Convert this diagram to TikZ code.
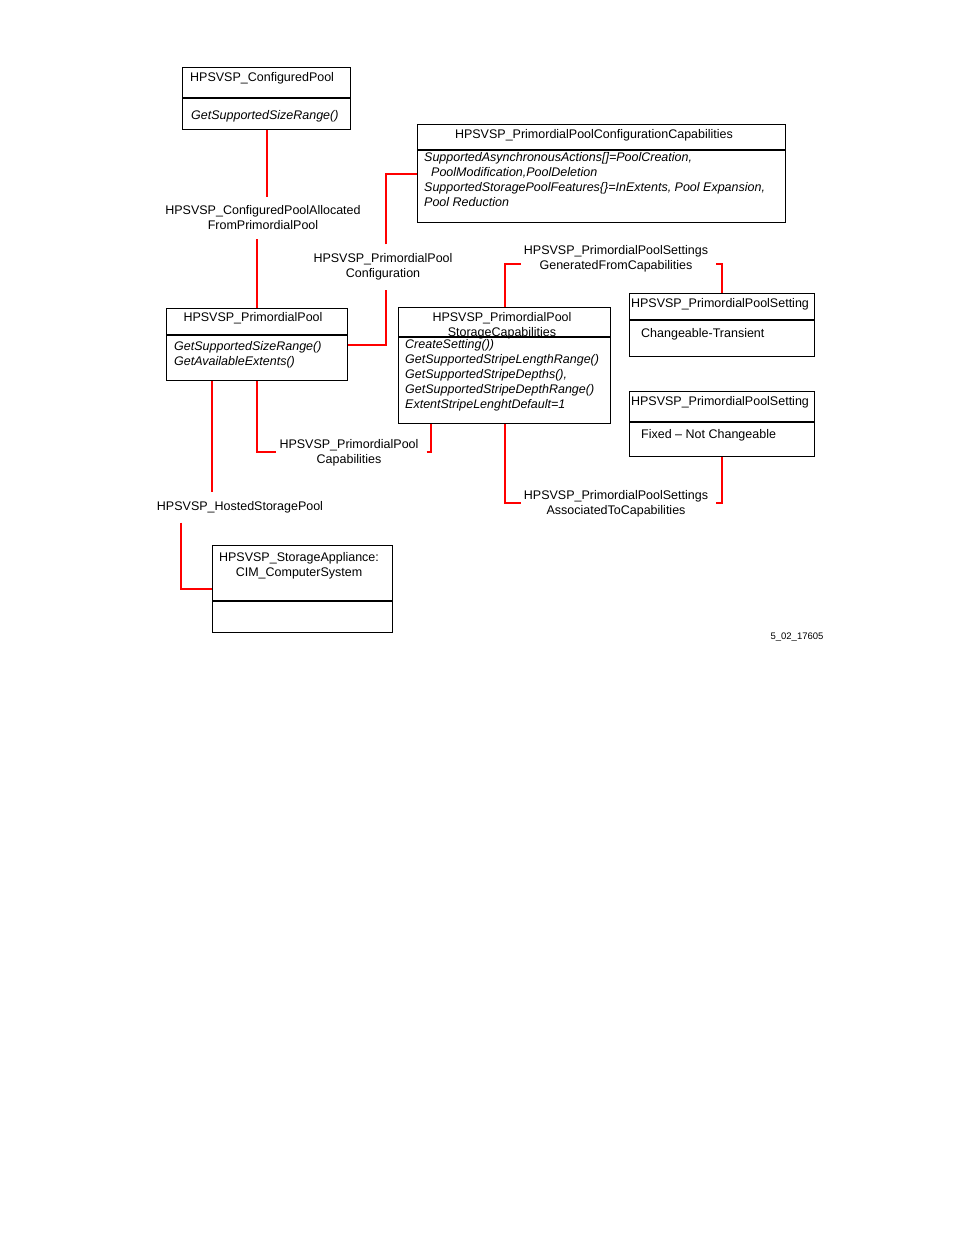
\documentclass[tikz,border=0pt]{standalone}
\usepackage{fontspec}
\setmainfont{Liberation Sans}
\usetikzlibrary{calc,positioning}

\begin{document}
\begin{tikzpicture}[x=1pt,y=-1pt,
  font=\fontsize{12.5}{15}\selectfont,
  classbox/.style={draw,line width=1.4pt,inner sep=0pt,anchor=north west},
  divider/.style={line width=1.4pt},
  member/.style={inner sep=0pt,anchor=west,align=left,yshift=-1.5pt,font=\fontsize{12.5}{15}\selectfont\itshape},
  plainmember/.style={inner sep=0pt,anchor=west,align=left,yshift=-1.5pt},
  classname/.style={inner sep=0pt,align=center,yshift=-1.5pt},
  assoclbl/.style={inner xsep=3pt,inner ysep=9pt,align=center,yshift=-1.5pt},
  assoc/.style={red,line width=2pt}]
  \useasboundingbox (0,0) rectangle (954,1235);

  \node[classbox,minimum width=168pt,minimum height=62pt] (cfgpool) at (182,67) {};
  \draw[divider] ($(cfgpool.north west)+(0,31)$) -- ($(cfgpool.north east)+(0,31)$);
  \node[classname,anchor=west] (cfgpoolT) at (190,77) {HPSVSP\_ConfiguredPool};
  \node[member] (cfgpoolM) at (191,115) {GetSupportedSizeRange()};

  \node[classbox,minimum width=368pt,minimum height=98pt] (ppcc) at (417,124) {};
  \draw[divider] ($(ppcc.north west)+(0,26)$) -- ($(ppcc.north east)+(0,26)$);
  \node[classname] (ppccT) at (594,134) {HPSVSP\_PrimordialPoolConfigurationCapabilities};
  \node[member] (ppccM) at (424,178.5) {SupportedAsynchronousActions[]=PoolCreation,\\
    \hspace*{7pt}PoolModification,PoolDeletion\\
    SupportedStoragePoolFeatures\{\}=InExtents, Pool Expansion,\\
    Pool Reduction};

  \node[classbox,minimum width=181pt,minimum height=72pt] (primpool) at (166,308) {};
  \draw[divider] ($(primpool.north west)+(0,27)$) -- ($(primpool.north east)+(0,27)$);
  \node[classname] (primpoolT) at (253,317) {HPSVSP\_PrimordialPool};
  \node[member] (primpoolM) at (174,353.5) {GetSupportedSizeRange()\\GetAvailableExtents()};

  \node[classbox,minimum width=212pt,minimum height=116pt] (ppsc) at (398,307) {};
  \draw[divider] ($(ppsc.north west)+(0,30)$) -- ($(ppsc.north east)+(0,30)$);
  \node[classname] (ppscT) at (502,324.5) {HPSVSP\_PrimordialPool\\StorageCapabilities};
  \node[member] (ppscM) at (405,374) {CreateSetting())\\GetSupportedStripeLengthRange()\\
    GetSupportedStripeDepths(),\\GetSupportedStripeDepthRange()\\ExtentStripeLenghtDefault=1};

  \node[classbox,minimum width=185pt,minimum height=63pt] (setting1) at (629,293) {};
  \draw[divider] ($(setting1.north west)+(0,27)$) -- ($(setting1.north east)+(0,27)$);
  \node[classname] (setting1T) at (720,303) {HPSVSP\_PrimordialPoolSetting};
  \node[plainmember] (setting1M) at (641,333) {Changeable-Transient};

  \node[classbox,minimum width=185pt,minimum height=65pt] (setting2) at (629,391) {};
  \draw[divider] ($(setting2.north west)+(0,31)$) -- ($(setting2.north east)+(0,31)$);
  \node[classname] (setting2T) at (720,401) {HPSVSP\_PrimordialPoolSetting};
  \node[plainmember] (setting2M) at (641,434) {Fixed -- Not Changeable};

  \node[classbox,minimum width=180pt,minimum height=87pt] (appliance) at (212,545) {};
  \draw[divider] ($(appliance.north west)+(0,56)$) -- ($(appliance.north east)+(0,56)$);
  \node[classname] (applianceT) at (299,564) {HPSVSP\_StorageAppliance:\\CIM\_ComputerSystem};

  \node[assoclbl] (allocLbl) at (263,216.5) {HPSVSP\_ConfiguredPoolAllocated\\FromPrimordialPool};
  \node[assoclbl] (cfgLbl) at (383,265.5) {HPSVSP\_PrimordialPool\\Configuration};
  \node[assoclbl] (capLbl) at (349,451.5) {HPSVSP\_PrimordialPool\\Capabilities};
  \node[assoclbl] (hostLbl) at (240,506) {HPSVSP\_HostedStoragePool};
  \node[assoclbl] (genLbl) at (616,257.5) {HPSVSP\_PrimordialPoolSettings\\GeneratedFromCapabilities};
  \node[assoclbl] (assocLbl) at (616,502.5) {HPSVSP\_PrimordialPoolSettings\\AssociatedToCapabilities};
  \node[font=\fontsize{9.5}{11}\selectfont,yshift=-1pt] (figno) at (797,636) {5\_02\_17605};

  \draw[assoc] (cfgpool.south) -- (cfgpool.south |- allocLbl.north);
  \draw[assoc] (primpool.north) -- (primpool.north |- allocLbl.south);
  \draw[assoc] (primpool.east) -| ([xshift=3pt]cfgLbl.south);
  \draw[assoc] ([xshift=3pt]cfgLbl.north) |- (ppcc.west);
  \draw[assoc] (primpool.south) |- ($(capLbl.west)+(0,-1)$);
  \draw[assoc] ($(capLbl.east)+(5,-1)$) -| ([xshift=-74pt]ppsc.south);
  \draw[assoc] ([xshift=-28pt]hostLbl.north |- primpool.south) -- ([xshift=-28pt]hostLbl.north);
  \draw[assoc] ([xshift=-59pt]hostLbl.south) |- (appliance.west);
  \draw[assoc] (ppsc.north) |- ($(genLbl.west)+(0,5)$);
  \draw[assoc] ($(genLbl.east)+(5,5)$) -| (setting1.north);
  \draw[assoc] (ppsc.south) |- ($(assocLbl.west)+(0,-1)$);
  \draw[assoc] ($(assocLbl.east)+(5,-1)$) -| (setting2.south);
\end{tikzpicture}
\end{document}
